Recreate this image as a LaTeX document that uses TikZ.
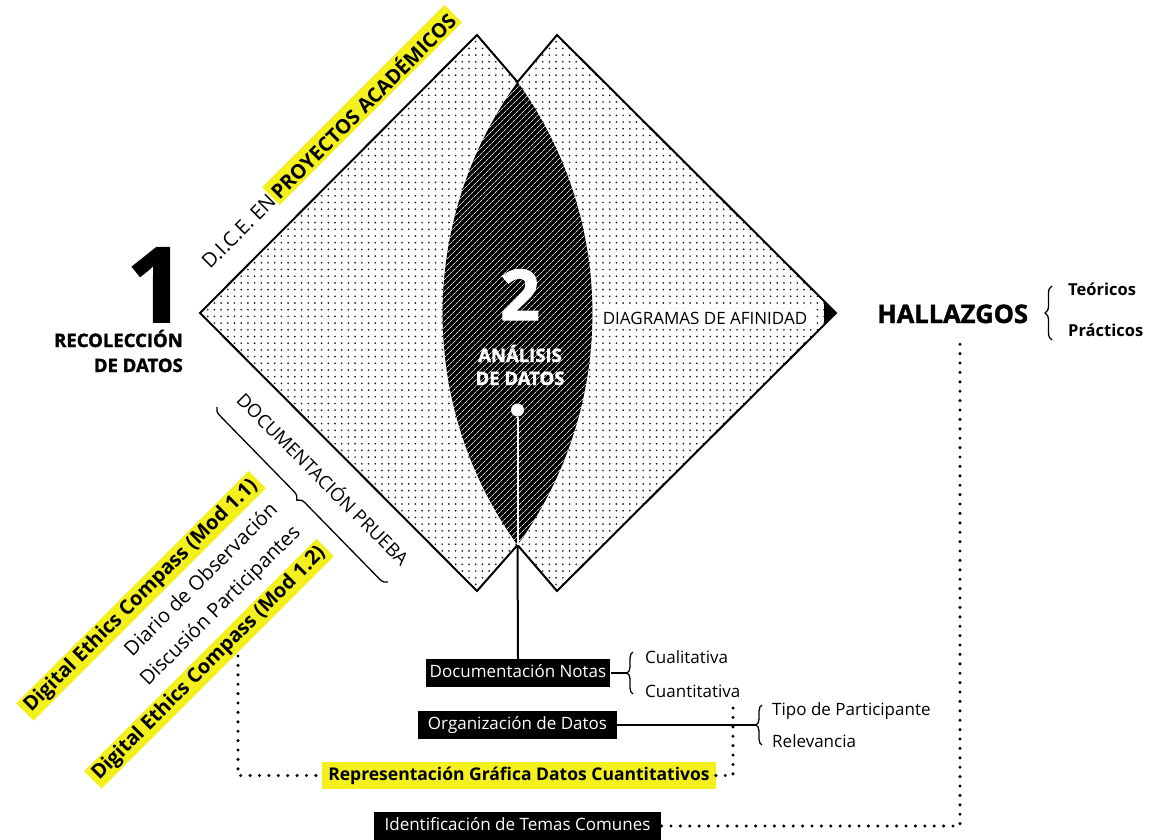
\documentclass[tikz,border=0pt]{standalone}
\usepackage{fontspec}
\setmainfont{Open Sans}
\newfontfamily\heavyfont[BoldFeatures={FakeBold=1.5}]{Open Sans}
\usetikzlibrary{patterns.meta,decorations.pathreplacing,calc}
\definecolor{hly}{RGB}{243,240,30}
\tikzset{
  blackbox/.style={fill=black, text=white, font=\fontsize{17}{20}\selectfont, text height=12.5pt, text depth=3.5pt, inner ysep=6pt, inner xsep=5pt},
  yellowbox/.style={fill=hly, text=black, font=\bfseries\fontsize{17.5}{20}\selectfont, text height=12.5pt, text depth=3.5pt, inner ysep=5.5pt, inner xsep=6pt},
  dotline/.style={line width=3.4pt, dash pattern=on 0pt off 9.4pt, line cap=round},
  bracestyle/.style={decorate, decoration={brace, amplitude=#1}, line width=1.3pt},
  listyellow/.style={fill=hly, font=\bfseries\fontsize{20}{24}\selectfont, text height=15pt, text depth=4.5pt, inner xsep=4pt, inner ysep=2.5pt, rotate=45, anchor=east},
  listplain/.style={font=\fontsize{20}{24}\selectfont, text height=15pt, text depth=4.5pt, inner sep=0pt, rotate=45, anchor=east},
  smalltxt/.style={font=\fontsize{17}{20}\selectfont, inner sep=0pt, anchor=base west},
}
\begin{document}
\begin{tikzpicture}[x=1pt,y=-1pt]
\useasboundingbox (0,0) rectangle (1156,839);
% outline points
\coordinate (L) at (200,313);
\coordinate (T1) at (477,35);
\coordinate (X1) at (517.5,82);
\coordinate (T2) at (557,35);
\coordinate (R) at (836,313);
\coordinate (B2) at (557,591);
\coordinate (X2) at (517.5,545);
\coordinate (B1) at (477,591);
% dotted fill
\fill[pattern={Dots[distance=6.7pt,radius=0.95pt]}, pattern color=black!90]
  (L) -- (T1) -- (X1) -- (T2) -- (R) -- (B2) -- (X2) -- (B1) -- cycle;
% lens
\fill[black] (X1) arc[start angle=215.86,end angle=144.14,radius=395.2]
  arc[start angle=35.86,end angle=-35.86,radius=395.2] -- cycle;
\fill[pattern={Lines[angle=45,distance=4pt,line width=0.7pt]}, pattern color=white!85!black]
  (X1) arc[start angle=215.86,end angle=144.14,radius=395.2]
  arc[start angle=35.86,end angle=-35.86,radius=395.2] -- cycle;
% outline
\draw[line width=2pt, line join=miter]
  (L) -- (T1) -- (X1) -- (T2) -- (R) -- (B2) -- (X2) -- (B1) -- cycle;
% arrow tip
\fill (824,301) -- (R) -- (824,325) -- cycle;
\node[fill=white, inner xsep=5pt, inner ysep=3pt, font=\fontsize{17}{20}\selectfont] (diag) at (705,318) {DIAGRAMAS DE AFINIDAD};

% number 1
\node[font=\heavyfont\bfseries\fontsize{104}{104}\selectfont, anchor=base east, inner sep=0pt] (one) at (186,322) {1};
\node[font=\heavyfont\bfseries\fontsize{18.5}{20}\selectfont, anchor=base east, inner sep=0pt] (rec1) at (183,347) {RECOLECCIÓN};
\node[font=\heavyfont\bfseries\fontsize{18.5}{20}\selectfont, anchor=base east, inner sep=0pt] (rec2) at (183,372) {DE DATOS};

% number 2
\node[text=white, font=\heavyfont\bfseries\fontsize{70}{70}\selectfont, anchor=base, inner sep=0pt] (two) at (520,320) {2};
\node[text=white, font=\heavyfont\bfseries\fontsize{18.5}{20}\selectfont, anchor=base, inner sep=0pt] (an1) at (520,362) {ANÁLISIS};
\node[text=white, font=\heavyfont\bfseries\fontsize{18.5}{20}\selectfont, anchor=base, inner sep=0pt] (an2) at (520,385) {DE DATOS};
\node[circle, fill=white, minimum size=13pt, inner sep=0pt] (dot) at (517.5,410) {};

% D.I.C.E.
\node[font=\fontsize{20}{22}\selectfont, rotate=45, anchor=base west, inner sep=0pt] (dice) at (210,270) {D.I.C.E. EN};
\node[fill=hly, font=\bfseries\fontsize{20}{22}\selectfont, rotate=45, anchor=base west, inner xsep=3pt, inner ysep=3pt] (proy) at (dice.base east) {PROYECTOS ACADÉMICOS};

% DOCUMENTACION PRUEBA
\node[font=\fontsize{18.5}{22}\selectfont, rotate=-45, inner sep=0pt] (docp) at (324,478) {DOCUMENTACIÓN PRUEBA};
\coordinate (brA) at (388,582);
\coordinate (brB) at (217,407);
\draw[bracestyle=8pt] (brA) -- (brB);

% rotated list
\node[listyellow] (mod11) at (257.4,479.5) {Digital Ethics Compass (Mod 1.1)};
\node[listplain] (diario) at (275.1,507) {Diario de Observación};
\node[listplain] (disc) at (297.7,529.7) {Discusión Participantes};
\node[listyellow] (mod12) at (325.3,547.4) {Digital Ethics Compass (Mod 1.2)};

% bottom boxes
\node[blackbox, inner xsep=4pt] (docn) at (518,673) {Documentación Notas};
\node[blackbox, inner xsep=10pt] (org) at (517.5,725) {Organización de Datos};
\node[yellowbox] (repr) at (519,775.5) {Representación Gráfica Datos Cuantitativos};
\node[blackbox, inner xsep=11pt] (ident) at (517.5,826) {Identificación de Temas Comunes};

% vertical connector
\draw[white, line width=2pt] (dot) -- (X2);
\draw[line width=2pt] (X2) -- (docn.north);

% Documentacion brace
\coordinate (bdtip) at (627,673);
\draw[line width=1.3pt] (docn.east) -- (bdtip);
\draw[bracestyle=6pt] (633,694) -- (633,652);
\node[smalltxt] (cual) at (645,663) {Cualitativa};
\node[smalltxt] (cuan) at (645,697) {Cuantitativa};

% Organizacion brace
\coordinate (botip) at (756,725);
\draw[line width=1.3pt] (org.east) -- (botip);
\draw[bracestyle=6pt] (762,745) -- (762,705);
\node[smalltxt] (tipo) at (772,715) {Tipo de Participante};
\node[smalltxt] (relev) at (772,747) {Relevancia};

% HALLAZGOS
\node[font=\heavyfont\bfseries\fontsize{25.5}{28}\selectfont, anchor=base west, inner sep=0pt] (hal) at (877,323) {HALLAZGOS};
\draw[bracestyle=7pt] (1052,340) -- (1052,286);
\node[font=\bfseries\fontsize{16.5}{18}\selectfont, anchor=base west, inner sep=0pt] (teo) at (1068,295) {Teóricos};
\node[font=\bfseries\fontsize{16.5}{18}\selectfont, anchor=base west, inner sep=0pt] (pra) at (1068,336) {Prácticos};

% dotted connectors
\coordinate (halbot) at (960,341);
\draw[dotline] (ident.east) -| (halbot);
\coordinate (cuanbot) at (733,708);
\draw[dotline] (repr.east) -| (cuanbot);
\coordinate (modbot) at (238,656);
\draw[dotline] (modbot) |- (repr.west);
\end{tikzpicture}
\end{document}
